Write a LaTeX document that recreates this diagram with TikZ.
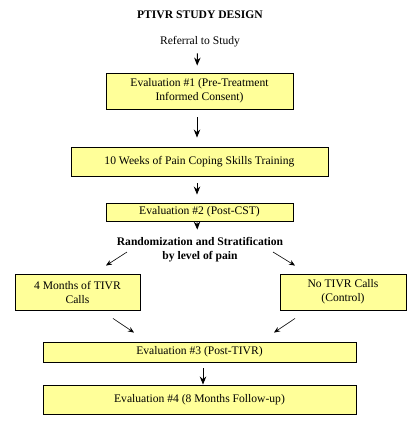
\documentclass[tikz,border=0pt]{standalone}
\usepackage{fontspec}
\setmainfont{Liberation Serif}
\usetikzlibrary{arrows.meta,calc}
\definecolor{lightyellow}{rgb}{1.0,1.0,0.6}

\begin{document}
\begin{tikzpicture}[
    x=1pt, y=-1pt,
    every node/.style={font=\fontsize{11.6}{14}\selectfont},
    box/.style={rectangle, draw, fill=lightyellow, line width=0.9pt, inner sep=0pt, align=center},
    arrow/.style={-{Stealth[length=8pt,width=6.5pt]}, line width=0.9pt},
    thinarrow/.style={-{Stealth[length=6pt,width=5pt]}, line width=0.6pt}
]
    \useasboundingbox (0,0) rectangle (420,426);

    \node[font=\fontsize{11.6}{14}\selectfont\bfseries] (title) at (200,15) {PTIVR STUDY DESIGN};
    \node (ref) at (200,42) {Referral to Study};
    \node[box, minimum width=187pt, minimum height=36pt] (eval1) at (199.5,91) {Evaluation \#1 (Pre-Treatment\\Informed Consent)};
    \node[box, minimum width=257pt, minimum height=29pt] (cst) at (199.5,161.5) {10 Weeks of Pain Coping Skills Training};
    \node[box, minimum width=187pt, minimum height=18pt] (eval2) at (199.5,212) {Evaluation \#2 (Post-CST)};
    \node[font=\fontsize{11.6}{14}\selectfont\bfseries, align=center] (rand) at (200,249.5) {Randomization and Stratification\\by level of pain};
    \node[box, minimum width=125pt, minimum height=36pt] (tivr) at (77.5,292) {4 Months of TIVR\\Calls};
    \node[box, minimum width=126pt, minimum height=36pt] (ctrl) at (343,292) {No TIVR Calls\\(Control)};
    \node[box, minimum width=313pt, minimum height=20pt] (eval3) at (199.5,352) {Evaluation \#3 (Post-TIVR)};
    \node[box, minimum width=313pt, minimum height=29pt] (eval4) at (199.5,399.5) {Evaluation \#4 (8 Months Follow-up)};

    % main column
    \draw[arrow, shorten <=2.5pt, shorten >=7pt] ([xshift=-2.5pt]ref.south) -- ([xshift=-2.5pt]eval1.north);
    \draw[arrow, shorten <=8pt, shorten >=9pt] ([xshift=-2.5pt]eval1.south) -- ([xshift=-2.5pt]cst.north);
    \draw[arrow, shorten <=7pt, shorten >=8pt] ([xshift=-2.5pt]cst.south) -- ([xshift=-2.5pt]eval2.north);
    \draw[arrow, shorten <=1pt, shorten >=4pt] ([xshift=-2.5pt]eval2.south) -- ([xshift=-2.5pt]rand.north);

    % split and join
    \draw[thinarrow] ($(rand.center)+(-73,2.5)$) -- ($(tivr.north)+(28.5,-8)$);
    \draw[thinarrow] ($(rand.center)+(73,2.5)$) -- ($(ctrl.north)+(-48,-8)$);
    \draw[thinarrow] ($(tivr.south)+(35.5,8)$) -- ($(eval3.north)+(-65.5,-9)$);
    \draw[thinarrow] ($(ctrl.south)+(-48,8)$) -- ($(eval3.north)+(74.5,-9)$);

    \draw[arrow, shorten <=6pt] ([xshift=3.5pt]eval3.south) -- ([xshift=3.5pt]eval4.north);
\end{tikzpicture}
\end{document}
